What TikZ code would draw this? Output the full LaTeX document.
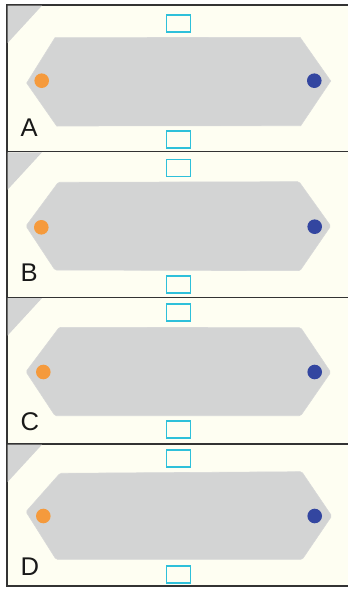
\documentclass[tikz,border=0pt]{standalone}
\usepackage{fontspec}
\setmainfont{Liberation Sans}
\definecolor{panelbg}{HTML}{FEFEF2}
\definecolor{plate}{HTML}{D3D4D4}
\definecolor{framecol}{HTML}{333333}
\definecolor{pinorange}{HTML}{F59A3C}
\definecolor{pinblue}{HTML}{3346A0}
\definecolor{slot}{HTML}{2EC0DA}
\tikzset{
  panel/.style={fill=panelbg, draw=framecol, line width=1.2pt},
  corner/.style={fill=plate},
  platefill/.style={fill=plate, draw=plate!90!white, line width=0.6pt, rounded corners=1.5pt},
  pin/.style={circle, inner sep=0pt, minimum size=14.6pt},
  slotbox/.style={draw=slot, line width=1.8pt, inner sep=0pt, minimum width=24pt, minimum height=17pt},
  tag/.style={inner sep=0pt, anchor=base west, font=\fontsize{25.6}{30}\selectfont, text=black!90},
}
\begin{document}
\begin{tikzpicture}[x=1pt, y=-1pt]
\useasboundingbox (0,0) rectangle (348,589);
\clip (0,0) rectangle (348,589);

% four stacked panels
\foreach \t/\b in {5/151.7, 151.7/297.5, 297.5/444, 444/586}{
  \draw[panel] (7,\t) rectangle (352,\b);
  \fill[corner] (7.6,\t+0.6) -- (42,\t+0.6) -- (7.6,\t+38) -- cycle;
}

% panel A
\path[platefill, rounded corners=0pt] (55,37.7) -- (300,37.3) -- (330.7,81) -- (300.7,125.7) -- (56.7,126) -- (26.7,83) -- cycle;
\node[pin, fill=pinorange] (oA) at (41.7,80.7) {};
\node[pin, fill=pinblue] (bA) at (314.3,80.7) {};
\node[slotbox] (tA) at (178.5,23.3) {};
\node[slotbox] (uA) at (178.5,139.2) {};
\node[tag] (lA) at (20.5,136.7) {A};

% panel B
\path[platefill] (58.3,182.3) -- (299,181.7) -- (330.7,226) -- (300,270.7) -- (55,270) -- (26,226) -- cycle;
\node[pin, fill=pinorange] (oB) at (41.3,227.3) {};
\node[pin, fill=pinblue] (bB) at (314.7,226.7) {};
\node[slotbox] (tB) at (178.5,168) {};
\node[slotbox] (uB) at (178.5,284.2) {};
\node[tag] (lB) at (20.5,281.7) {B};

% panel C
\path[platefill] (59.3,327.3) -- (300.7,327.7) -- (330.7,372.3) -- (300.7,415.7) -- (55,415.7) -- (26,371.7) -- cycle;
\node[pin, fill=pinorange] (oC) at (43.3,372) {};
\node[pin, fill=pinblue] (bC) at (314.7,372) {};
\node[slotbox] (tC) at (178.5,312.8) {};
\node[slotbox] (uC) at (178.5,429.2) {};
\node[tag] (lC) at (20.5,430) {C};

% panel D
\path[platefill] (60,473.3) -- (301.7,471.7) -- (331.7,516) -- (302.3,559.3) -- (56,559.3) -- (26,511.7) -- cycle;
\node[pin, fill=pinorange] (oD) at (43.3,516) {};
\node[pin, fill=pinblue] (bD) at (314.7,516) {};
\node[slotbox] (tD) at (178.5,458.8) {};
\node[slotbox] (uD) at (178.5,574.8) {};
\node[tag] (lD) at (20.5,575) {D};
\end{tikzpicture}
\end{document}
